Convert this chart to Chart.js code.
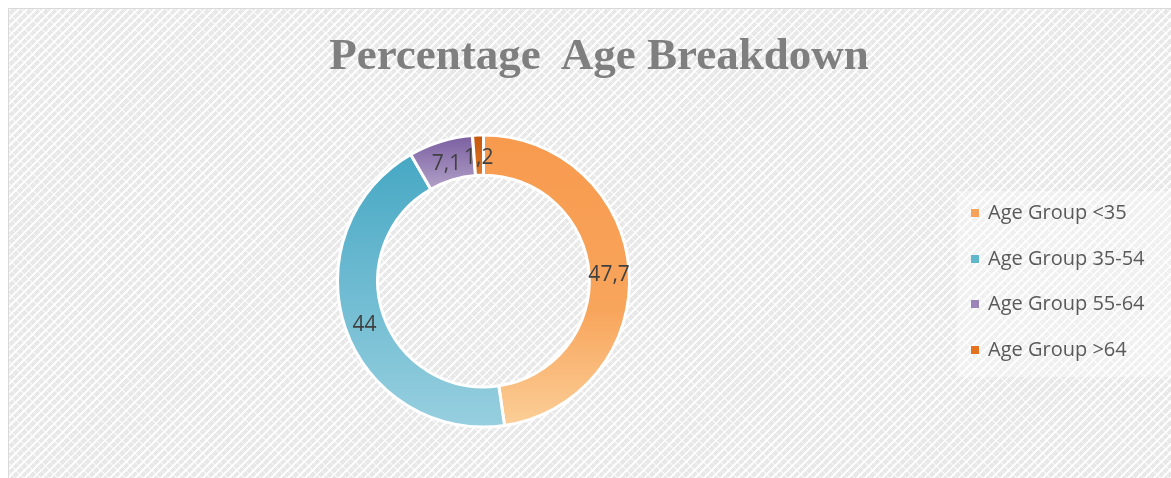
<!DOCTYPE html>
<html>
<head>
<meta charset="utf-8">
<script src="https://cdn.jsdelivr.net/npm/chart.js@4"></script>
<style>
  html, body { margin: 0; padding: 0; background: #fff; overflow: hidden; }
  #frame {
    position: absolute; left: 8px; top: 8px; width: 1170px; height: 474px;
    border: 1px solid #d9d9d9; box-sizing: border-box;
    background-color: #e8e8e8;
    background-image: repeating-linear-gradient(135deg, rgba(255,255,255,0.9) 0 2px, transparent 2px 6px),
                      repeating-linear-gradient(45deg, rgba(255,255,255,0.6) 0 1px, transparent 1px 6px);
  }
  #grafico { position: absolute; left: 0; top: 0; }
  #titulo {
    position: absolute; left: 0; width: 1180px; top: 20px; text-align: center;
    font-family: "Liberation Serif", serif; font-weight: bold; font-size: 45px; line-height: 50px;
    color: #7f7f7f; white-space: pre;
  }
  #legenda {
    position: absolute; left: 948px; top: 182px; width: 230px; height: 186px;
    background: rgba(255,255,255,0.35);
    font-family: "Open Sans", sans-serif; font-size: 20px; color: #595959;
  }
  .item { position: absolute; left: 0; height: 24px; line-height: 24px; white-space: nowrap; }
  .marca { position: absolute; left: 14px; top: 9px; width: 8px; height: 8px; }
  .texto { position: absolute; left: 31px; top: 0; }
</style>
</head>
<body>
<div id="frame">
  <canvas id="grafico" width="1170" height="474"></canvas>
  <div id="titulo">Percentage  Age Breakdown</div>
  <div id="legenda"></div>
</div>
<script>
const categorias = ["Age Group <35", "Age Group 35-54", "Age Group 55-64", "Age Group >64"];
const valores = [47.7, 44, 7.1, 1.2];
const coresLegenda = ["#f6a25a", "#5fb7cc", "#9a85b8", "#e2721e"];

document.addEventListener("DOMContentLoaded", function () {
  const ctx = document.getElementById("grafico").getContext("2d");

  // Gradientes de cada fatia
  function gradiente(chart, i) {
    const area = chart.chartArea;
    if (!area || !isFinite(area.top)) return coresLegenda[i];
    const c = chart.ctx;
    const cy = (area.top + area.bottom) / 2;
    const cx = (area.left + area.right) / 2;
    const r = 146;
    const g = c.createLinearGradient(cx, cy - r, cx, cy + r);
    if (i === 0) {
      g.addColorStop(0, "#f79a4e");
      g.addColorStop(0.6, "#f8a55c");
      g.addColorStop(1, "#fbcf98");
    } else if (i === 1) {
      g.addColorStop(0, "#41a5c2");
      g.addColorStop(1, "#97cfdf");
    } else if (i === 2) {
      g.addColorStop(0, "#7a5ea0");
      g.addColorStop(0.2, "#b6a6cb");
      g.addColorStop(1, "#b6a6cb");
    } else {
      g.addColorStop(0, "#c4560c");
      g.addColorStop(0.2, "#e8883a");
      g.addColorStop(1, "#e8883a");
    }
    return g;
  }

  // Rótulos de dados no meio do anel
  const rotulos = {
    id: "rotulos",
    afterDatasetsDraw(chart) {
      const c = chart.ctx;
      c.save();
      c.font = "21px 'Open Sans', sans-serif";
      c.fillStyle = "#404040";
      c.textAlign = "center";
      c.textBaseline = "middle";
      chart.getDatasetMeta(0).data.forEach((arc, i) => {
        const p = arc.tooltipPosition();
        c.fillText(String(valores[i]).replace(".", ","), p.x, p.y + 3);
      });
      c.restore();
    }
  };

  new Chart(ctx, {
    type: "doughnut",
    data: {
      labels: categorias,
      datasets: [{
        data: valores,
        backgroundColor: c => gradiente(c.chart, c.dataIndex),
        borderColor: "#ffffff",
        borderWidth: 3
      }]
    },
    options: {
      responsive: false,
      animation: false,
      radius: 146,
      cutout: "72.5%",
      layout: { padding: { left: 0, right: 221, top: 80, bottom: 10 } },
      plugins: {
        legend: { display: false },
        tooltip: { enabled: false }
      }
    },
    plugins: [rotulos]
  });

  // Legenda
  const legenda = document.getElementById("legenda");
  categorias.forEach((nome, i) => {
    const div = document.createElement("div");
    div.className = "item";
    div.style.top = (9 + i * 45.5) + "px";
    div.innerHTML = `<span class="marca" style="background:${coresLegenda[i]}"></span><span class="texto">${nome}</span>`;
    legenda.appendChild(div);
  });
});
</script>
</body>
</html>
